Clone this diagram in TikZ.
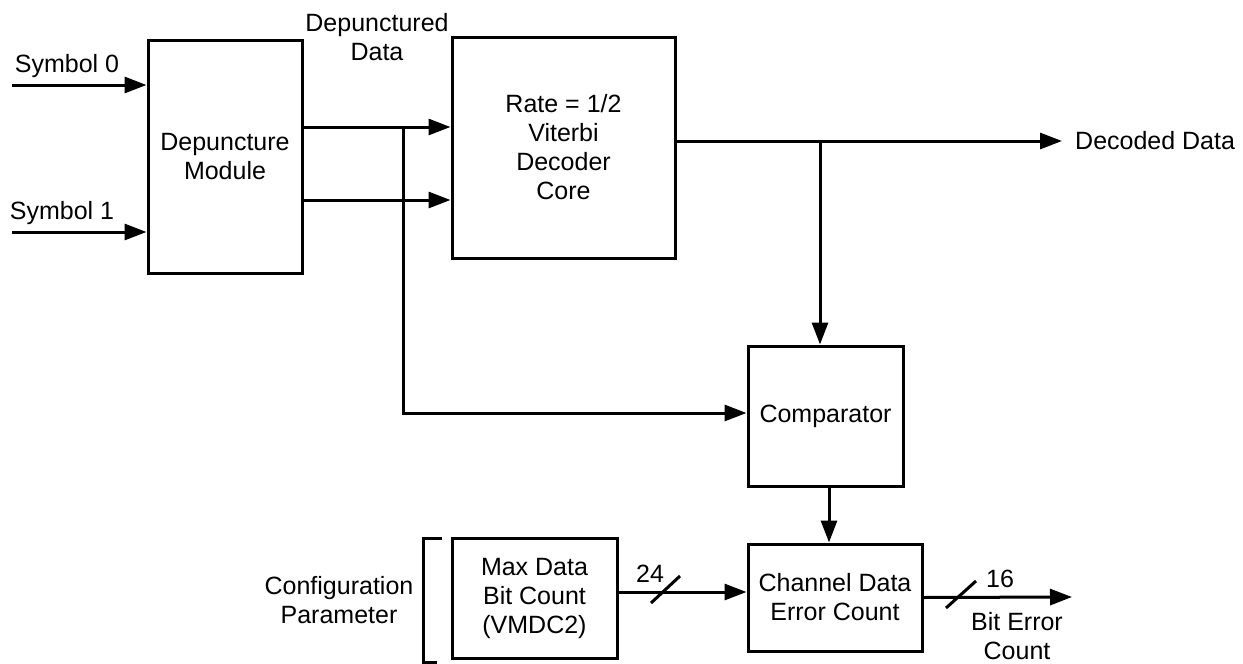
\documentclass[tikz,border=0pt]{standalone}
\usepackage{fontspec}
\setmainfont{Liberation Sans}
\usetikzlibrary{arrows.meta,positioning,calc}

\begin{document}
\begin{tikzpicture}[x=1pt, y=-1pt,
  blk/.style={rectangle, draw, line width=3pt, minimum width=#1, font=\fontsize{25}{29}\selectfont, align=center, inner sep=0pt},
  lbl/.style={font=\fontsize{25}{29}\selectfont, align=center, inner sep=0pt},
  arr/.style={-{Triangle[length=22pt, width=16pt]}, line width=3pt},
  bus/.style={line width=3pt}
]
  \useasboundingbox (0,0) rectangle (1243,664);
  % blocks
  \node[blk=154pt, minimum height=233pt] (dep) at (225,157) {Depuncture\\Module};
  \node[blk=223pt, minimum height=221pt] (vit) at (563.5,147.5) {Rate = 1/2\\Viterbi\\Decoder\\Core};
  \node[blk=155pt, minimum height=140pt] (cmp) at (825.5,416) {Comparator};
  \node[blk=174pt, minimum height=107pt] (cnt) at (835,597.5) {Channel Data\\Error Count};
  \node[blk=165pt, minimum height=120pt] (max) at (534.5,598) {Max Data\\Bit Count\\(VMDC2)};
  % labels
  \node[lbl] (s0) at (67,66) {Symbol 0};
  \node[lbl] (s1) at (62,213) {Symbol 1};
  \node[lbl] (dpd) at (377,37) {Depunctured\\Data};
  \node[lbl, anchor=west] (dec) at (1075,141) {Decoded Data};
  \node[lbl] (cfg) at (339,600) {Configuration\\Parameter};
  \node[lbl] (ber) at (1017,636) {Bit Error\\Count};
  \node[lbl] (n24) at (650,574) {24};
  \node[lbl] (n16) at (1000,579) {16};
  % free ends
  \coordinate (in0) at (12,85);
  \coordinate (in1) at (12,232);
  \coordinate (tap) at (403,127);
  \coordinate (br) at (820,141);
  \coordinate (out) at (1072,597);
  % connectors
  \draw[arr] (in0) -- (in0 -| dep.west);
  \draw[arr] (in1) -- (in1 -| dep.west);
  \draw[arr] (dep.east |- tap) -- (tap -| vit.west);
  \draw[arr] (dep.east |- 0,200) -- (vit.west |- 0,200);
  \draw[arr] (tap) |- ([yshift=3pt]cmp.west);
  \draw[arr] (vit.east |- dec) -- ([xshift=-13pt]dec.west);
  \draw[arr] (br) -- (br |- cmp.north);
  \draw[arr] ([xshift=3.5pt]cmp.south) -- ([xshift=3.5pt]cmp.south |- cnt.north);
  \draw[arr] ([yshift=6pt]max.east) -- ([yshift=6pt]max.east -| cnt.west);
  \draw[arr] (cnt.east) -- (out);
  % bus width marks
  \draw[bus] (651,603) -- (680,576);
  \draw[bus] (946,608) -- (976,581);
  % bracket
  \draw[bus] (442,538) -- (423,538) -- (423,662) -- (437,662);
\end{tikzpicture}
\end{document}
